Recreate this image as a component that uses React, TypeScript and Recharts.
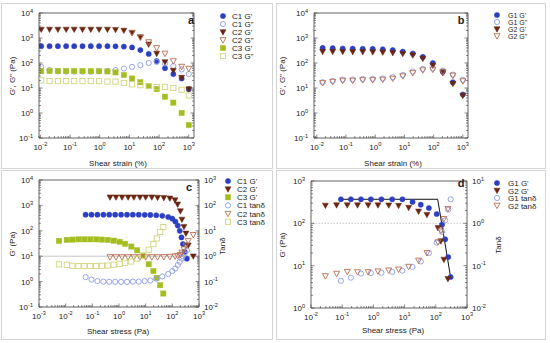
import { ScatterChart, Scatter, XAxis, YAxis, ReferenceLine } from 'recharts'

const W = 550
const H = 343
const FONT = '"Liberation Sans", Arial, sans-serif'
const AXIS = '#3a3a3a'

const blueF = '#2c3fc2'
const blueO = '#8d9be6'
const brownF = '#6b2612'
const brownO = '#b86f50'
const greenF = '#a5bd1f'
const greenO = '#d2d47e'

// ---- panel a : strain sweep, C1..C3
const strainA = [0.0107, 0.0204, 0.039, 0.074, 0.138, 0.263, 0.5, 0.95, 1.82, 3.4, 6.5, 12.3, 23.4, 44.7, 83, 158, 302, 575, 1000]
const c1GpA = [470, 470, 470, 470, 470, 470, 470, 470, 470, 465, 455, 420, 330, 230, 120, 62, 36, 24, 9]
const c1GppA = [70, 52, 46, 45, 45, 45, 45, 46, 48, 52, 60, 70, 82, 100, 110, 95, 75, 55, 36]
const c2GpA = [2200, 2200, 2200, 2200, 2200, 2200, 2200, 2200, 2200, 2150, 2000, 1650, 1100, 560, 240, 110, 50, 26, 9]
const c2GppA = [null, null, null, null, null, null, null, null, null, null, null, 1600, 1050, 690, 400, 240, 120, 72, 60]
const c3GpA = [47, 48, 48, 48, 48, 48, 47, 47, 46, 42, 33, 24, 17, 12, 9, 4.5, 2.6, 1.0, 0.33]
const c3GppA = [20, 19, 19, 19, 19, 19, 19, 19, 18, 18, 16, 14, 13, 12, 11, 11, 10, 8.5, 5]

// ---- panel b : strain sweep, G1..G2
const strainB = [0.0158, 0.0349, 0.0769, 0.169, 0.373, 0.82, 1.81, 3.98, 8.77, 19.3, 42.6, 93.6, 206, 454, 1000]
const g1GpB = [400, 390, 380, 375, 370, 365, 355, 330, 285, 240, 175, 100, 45, 17, 5.5]
const g1GppB = [17, 19, 21.5, 22, 23, 23, 24, 27, 33, 46, 58, 60, 50, 34, 21]
const g2GpB = [285, 285, 283, 280, 278, 275, 268, 255, 235, 205, 150, 80, 40, 15, 5]
const g2GppB = [16, 18, 20, 20, 21, 21, 22, 24, 30, 40, 52, 55, 45, 32, 19]

// ---- panel c : stress sweep, C1..C3
const c1StressC = [0.056, 0.093, 0.155, 0.26, 0.43, 0.72, 1.2, 2.0, 3.3, 5.5, 9.2, 15, 25, 42, 70, 100, 130, 160, 190, 220, 250, 290, 350]
const c1GpC = [430, 430, 430, 430, 430, 430, 430, 430, 430, 430, 425, 420, 410, 390, 350, 300, 230, 160, 100, 55, 30, 15, 8]
const c1TanC = [0.15, 0.12, 0.105, 0.1, 0.098, 0.098, 0.098, 0.098, 0.1, 0.1, 0.105, 0.11, 0.13, 0.16, 0.2, 0.26, 0.33, 0.45, 0.6, 0.8, 1.0, 1.3, 1.7]
const c2StressC = [0.46, 0.77, 1.3, 2.2, 3.6, 6.1, 10, 17, 28, 48, 81, 126, 158, 200, 229, 273, 324, 396, 610]
const c2GpC = [2100, 2100, 2100, 2100, 2100, 2100, 2100, 2100, 2050, 2000, 1900, 1630, 1100, 600, 280, 145, 79, 27, 10]
const c2TanC = [0.93, 0.93, 0.93, 0.93, 0.93, 0.93, 0.93, 0.93, 0.93, 0.94, 0.96, 1.0, 1.05, 1.15, 1.4, 1.9, 2.7, 4, 7]
const c3StressC = [0.0056, 0.011, 0.018, 0.03, 0.05, 0.083, 0.14, 0.23, 0.38, 0.63, 1.05, 1.7, 2.9, 4.8, 8, 13, 19.5, 26, 35, 46]
const c3GpC = [40, 44, 45, 46, 46, 46, 46, 45, 44, 41, 37, 31, 24, 17, 10.5, 4.8, 2.6, 1.4, 0.72, 0.34]
const c3TanC = [0.48, 0.46, 0.42, 0.41, 0.41, 0.41, 0.41, 0.42, 0.43, 0.46, 0.5, 0.55, 0.62, 0.8, 1.05, 1.8, 3, 5, 9, 14]

// ---- panel d : stress sweep, G1..G2
const g1StressD = [0.091, 0.19, 0.4, 0.83, 1.8, 4.0, 8.5, 18, 33, 60, 107, 158, 200, 250, 300]
const g1GpD = [370, 370, 370, 370, 370, 370, 370, 320, 276, 230, 166, 93, 42, 16, 5.4]
const g1TanD = [0.044, 0.052, 0.065, 0.067, 0.068, 0.071, 0.076, 0.093, 0.126, 0.2, 0.35, 0.63, 1.18, 2.1, 3.7]
const g2StressD = [0.029, 0.066, 0.145, 0.31, 0.68, 1.4, 3.1, 6.4, 13.5, 28, 52, 117, 145, 182, 245]
const g2GpD = [265, 270, 270, 270, 270, 270, 268, 262, 235, 192, 160, 78, 38, 14, 4.9]
const g2TanD = [0.057, 0.065, 0.072, 0.071, 0.071, 0.074, 0.078, 0.082, 0.095, 0.133, 0.2, 0.36, 0.68, 1.28, 2.2]
const fitStressD = [0.091, 115, 300]
const fitGpD = [370, 370, 5.2]

type Kind = 'circle' | 'tri' | 'square'
type Pt = { x: number; y: number }
type Ser = { name: string; data: Pt[]; kind: Kind; filled: boolean; color: string; tan?: boolean }

const pts = (xs: number[], ys: (number | null)[]): Pt[] =>
  xs.flatMap((x, i) => (ys[i] == null ? [] : [{ x, y: ys[i] as number }]))

function Mark({ cx, cy, kind, filled, color, r = 2.6 }: { cx: number; cy: number; kind: Kind; filled: boolean; color: string; r?: number }) {
  const st = filled
    ? { fill: color, stroke: color, strokeWidth: 0.5 }
    : { fill: 'none', stroke: color, strokeWidth: 0.9 }
  if (kind === 'circle') return <circle cx={cx} cy={cy} r={r} {...st} />
  if (kind === 'square') return <rect x={cx - r} y={cy - r} width={2 * r} height={2 * r} {...st} />
  const h = r * 1.1
  return <polygon points={`${cx - r * 1.15},${cy - h * 0.8} ${cx + r * 1.15},${cy - h * 0.8} ${cx},${cy + h * 1.1}`} {...st} />
}

function logTicks(lo: number, hi: number) {
  const out: number[] = []
  for (let e = Math.floor(Math.log10(lo)); e <= Math.ceil(Math.log10(hi)); e++) {
    for (let m = 1; m < 10; m++) {
      const v = Number((m * Math.pow(10, e)).toPrecision(3))
      if (v >= lo * 0.9999 && v <= hi * 1.0001) out.push(v)
    }
  }
  return out
}

function Pow({ x, y, exp, anchor }: { x: number; y: number; exp: number; anchor: 'start' | 'middle' | 'end' }) {
  return (
    <text x={x} y={y} textAnchor={anchor} fontFamily={FONT} fontSize={8} fill="#222">
      10<tspan dy={-3.4} fontSize={5.6}>{exp}</tspan>
    </text>
  )
}

function LogTick(props: any) {
  const { x, y, payload, side, label } = props
  const v = payload.value as number
  const lg = Math.log10(v)
  const e = Math.round(lg)
  const major = Math.abs(lg - e) < 1e-6
  const len = major ? 3.5 : 2
  const ln = { stroke: AXIS, strokeWidth: 0.6 }
  if (side === 'bottom')
    return (
      <g>
        <line x1={x} x2={x} y1={y} y2={y - len} {...ln} />
        {major && label && <Pow x={x} y={y + 11.5} exp={e} anchor="middle" />}
      </g>
    )
  if (side === 'top') return <line x1={x} x2={x} y1={y} y2={y + len} {...ln} />
  if (side === 'left')
    return (
      <g>
        <line x1={x} x2={x + len} y1={y} y2={y} {...ln} />
        {major && label && <Pow x={x - 6} y={y + 3} exp={e} anchor="end" />}
      </g>
    )
  return (
    <g>
      <line x1={x} x2={x - len} y1={y} y2={y} {...ln} />
      {major && label && <Pow x={x + 5} y={y + 3} exp={e} anchor="start" />}
    </g>
  )
}

type PanelProps = {
  rect: [number, number, number, number]
  xDom: [number, number]
  yDom: [number, number]
  tDom?: [number, number]
  series: Ser[]
  refTan?: string
  fit?: Pt[]
}

function Panel({ rect, xDom, yDom, tDom, series, refTan, fit }: PanelProps) {
  const [l, t, r, b] = rect
  const axisLine = { stroke: AXIS, strokeWidth: 0.8 }
  const common = { type: 'number' as const, scale: 'log' as const, allowDataOverflow: true, interval: 0, tickSize: 0, tickMargin: 0, axisLine }
  const rDom = tDom ?? yDom
  // axes are 1px thick so recharts still renders them
  return (
    <div style={{ position: 'absolute', left: 0, top: 0 }}>
      <ScatterChart width={W} height={H} margin={{ top: t - 1, left: l - 1, right: W - r - 1, bottom: H - b - 1 }}>
        <XAxis xAxisId="x" dataKey="x" {...common} domain={xDom} ticks={logTicks(xDom[0], xDom[1])} height={1}
          tick={(q: any) => <LogTick {...q} side="bottom" label />} />
        <XAxis xAxisId="top" orientation="top" {...common} domain={xDom} ticks={logTicks(xDom[0], xDom[1])} height={1}
          tick={(q: any) => <LogTick {...q} side="top" />} />
        <YAxis yAxisId="g" dataKey="y" {...common} domain={yDom} ticks={logTicks(yDom[0], yDom[1])} width={1}
          tick={(q: any) => <LogTick {...q} side="left" label />} />
        <YAxis yAxisId="r" orientation="right" dataKey="y" {...common} domain={rDom}
          ticks={logTicks(rDom[0], rDom[1])} width={1}
          tick={(q: any) => <LogTick {...q} side="right" label={!!tDom} />} />
        {refTan && (
          <ReferenceLine xAxisId="x" yAxisId="r" y={1} stroke="#b8b8b8" strokeWidth={0.8}
            strokeDasharray={refTan === 'dot' ? '1.5 1.5' : undefined} />
        )}
        {fit && (
          <Scatter data={fit} xAxisId="x" yAxisId="g" line={{ stroke: '#111', strokeWidth: 1 }}
            shape={() => <g />} isAnimationActive={false} />
        )}
        {series.map((s) => (
          <Scatter key={s.name} name={s.name} data={s.data} xAxisId="x" yAxisId={s.tan ? 'r' : 'g'} isAnimationActive={false}
            shape={(p: any) => <Mark cx={p.cx} cy={p.cy} kind={s.kind} filled={s.filled} color={s.color} />} />
        ))}
      </ScatterChart>
    </div>
  )
}

const seriesA: Ser[] = [
  { name: "C1 G'", data: pts(strainA, c1GpA), kind: 'circle', filled: true, color: blueF },
  { name: 'C1 G"', data: pts(strainA, c1GppA), kind: 'circle', filled: false, color: blueO },
  { name: "C2 G'", data: pts(strainA, c2GpA), kind: 'tri', filled: true, color: brownF },
  { name: 'C2 G"', data: pts(strainA, c2GppA), kind: 'tri', filled: false, color: brownO },
  { name: "C3 G'", data: pts(strainA, c3GpA), kind: 'square', filled: true, color: greenF },
  { name: 'C3 G"', data: pts(strainA, c3GppA), kind: 'square', filled: false, color: greenO },
]
const seriesB: Ser[] = [
  { name: "G1 G'", data: pts(strainB, g1GpB), kind: 'circle', filled: true, color: blueF },
  { name: 'G1 G"', data: pts(strainB, g1GppB), kind: 'circle', filled: false, color: blueO },
  { name: "G2 G'", data: pts(strainB, g2GpB), kind: 'tri', filled: true, color: brownF },
  { name: 'G2 G"', data: pts(strainB, g2GppB), kind: 'tri', filled: false, color: brownO },
]
const seriesC: Ser[] = [
  { name: "C1 G'", data: pts(c1StressC, c1GpC), kind: 'circle', filled: true, color: blueF },
  { name: "C2 G'", data: pts(c2StressC, c2GpC), kind: 'tri', filled: true, color: brownF },
  { name: "C3 G'", data: pts(c3StressC, c3GpC), kind: 'square', filled: true, color: greenF },
  { name: 'C1 tanδ', data: pts(c1StressC, c1TanC), kind: 'circle', filled: false, color: blueO, tan: true },
  { name: 'C2 tanδ', data: pts(c2StressC, c2TanC), kind: 'tri', filled: false, color: brownO, tan: true },
  { name: 'C3 tanδ', data: pts(c3StressC, c3TanC), kind: 'square', filled: false, color: greenO, tan: true },
]
const seriesD: Ser[] = [
  { name: "G1 G'", data: pts(g1StressD, g1GpD), kind: 'circle', filled: true, color: blueF },
  { name: "G2 G'", data: pts(g2StressD, g2GpD), kind: 'tri', filled: true, color: brownF },
  { name: 'G1 tanδ', data: pts(g1StressD, g1TanD), kind: 'circle', filled: false, color: blueO, tan: true },
  { name: 'G2 tanδ', data: pts(g2StressD, g2TanD), kind: 'tri', filled: false, color: brownO, tan: true },
]

function Legend({ items, mx, tx, y0, dy, size = 8 }: { items: Ser[]; mx: number; tx: number; y0: number; dy: number; size?: number }) {
  return (
    <g>
      {items.map((s, i) => (
        <g key={s.name}>
          <Mark cx={mx} cy={y0 + i * dy} kind={s.kind} filled={s.filled} color={s.color} />
          <text x={tx} y={y0 + i * dy + 3} fontFamily={FONT} fontSize={size} fill="#222">{s.name}</text>
        </g>
      ))}
    </g>
  )
}

function Txt({ x, y, children, rot, size = 8, bold }: { x: number; y: number; children: any; rot?: boolean; size?: number; bold?: boolean }) {
  return (
    <text x={x} y={y} textAnchor="middle" fontFamily={FONT} fontSize={size} fontWeight={bold ? 'bold' : 'normal'} fill="#222"
      transform={rot ? `rotate(-90 ${x} ${y})` : undefined}>
      {children}
    </text>
  )
}

export default function App() {
  const frame = { fill: 'none', stroke: '#d4d4d4', strokeWidth: 1 }
  return (
    <div style={{ position: 'relative', width: W, height: H, background: '#fff' }}>
      <style>{'body{margin:0}'}</style>
      <Panel rect={[39, 13, 194, 138]} xDom={[0.009, 1500]} yDom={[0.1, 10000]} series={seriesA} />
      <Panel rect={[314, 13, 468, 138]} xDom={[0.008, 1500]} yDom={[0.1, 10000]} series={seriesB} />
      <Panel rect={[39, 180, 199, 307]} xDom={[0.001, 1000]} yDom={[0.1, 10000]} tDom={[0.01, 1000]} series={seriesC} refTan="solid" />
      <Panel rect={[311, 181, 467, 308]} xDom={[0.01, 1000]} yDom={[1, 1000]} tDom={[0.01, 10]} series={seriesD} refTan="dot"
        fit={pts(fitStressD, fitGpD)} />
      <svg width={W} height={H} style={{ position: 'absolute', left: 0, top: 0, pointerEvents: 'none' }}>
        <rect x={1.5} y={3.5} width={271} height={165} {...frame} />
        <rect x={276.5} y={3.5} width={269} height={165} {...frame} />
        <rect x={1.5} y={170.5} width={271} height={169} {...frame} />
        <rect x={276.5} y={170.5} width={269} height={169} {...frame} />

        <Txt x={191} y={24} size={11} bold>a</Txt>
        <Txt x={461} y={24} size={11} bold>b</Txt>
        <Txt x={189} y={191} size={11} bold>c</Txt>
        <Txt x={461} y={187} size={11} bold>d</Txt>

        <Txt x={118} y={166}>Shear strain (%)</Txt>
        <Txt x={393} y={166}>Shear strain (%)</Txt>
        <Txt x={118} y={334}>Shear stress (Pa)</Txt>
        <Txt x={393} y={333}>Shear stress (Pa)</Txt>
        <Txt x={15} y={76} rot>G', G" (Pa)</Txt>
        <Txt x={285} y={76} rot>G', G" (Pa)</Txt>
        <Txt x={15} y={244} rot>G' (Pa)</Txt>
        <Txt x={285} y={245} rot>G' (Pa)</Txt>
        <Txt x={225} y={246} rot>Tanδ</Txt>
        <Txt x={501} y={245} rot>Tanδ</Txt>

        <Legend items={seriesA} mx={223} tx={232} y0={16} dy={8} />
        <Legend items={seriesB} mx={497} tx={508} y0={15} dy={7} size={7} />
        <Legend items={seriesC} mx={228} tx={237} y0={181} dy={8.15} />
        <Legend items={seriesD} mx={497} tx={508} y0={183} dy={7.5} />
      </svg>
    </div>
  )
}
